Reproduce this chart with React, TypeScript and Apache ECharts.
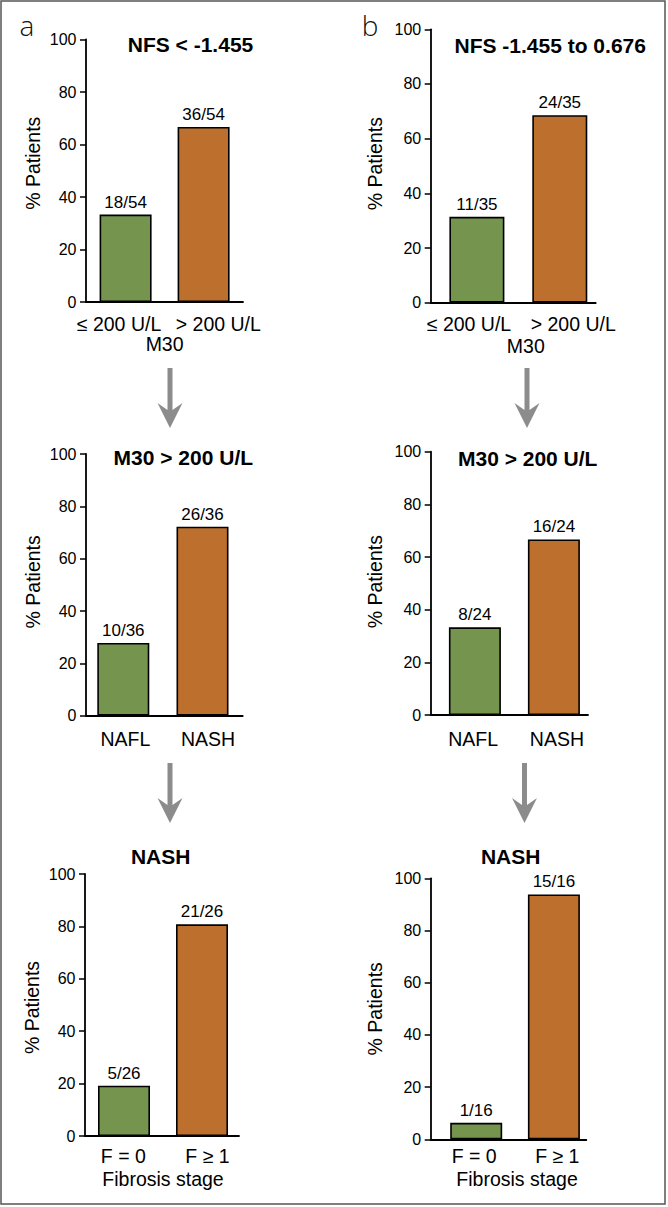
import React, { useEffect, useRef } from "react";
import * as echarts from "echarts";

// ---------- data ----------
const panelTitles = [
  "NFS < -1.455",
  "NFS -1.455 to 0.676",
  "M30 > 200 U/L",
  "M30 > 200 U/L",
  "NASH",
  "NASH",
];
const catsM30 = ["≤ 200 U/L", "> 200 U/L"];
const catsHisto = ["NAFL", "NASH"];
const catsFibrosis = ["F = 0", "F ≥ 1"];
const panelCategories = [catsM30, catsM30, catsHisto, catsHisto, catsFibrosis, catsFibrosis];
const xAxisNames = ["M30", "M30", "", "", "Fibrosis stage", "Fibrosis stage"];
const yAxisName = "% Patients";
const yMin = 0;
const yMax = 100;
const yInterval = 20;
const percentA1 = [33.3, 66.7];
const percentB1 = [31.4, 68.6];
const percentA2 = [27.8, 72.2];
const percentB2 = [33.3, 66.7];
const percentA3 = [19.2, 80.8];
const percentB3 = [6.3, 93.8];
const panelValues = [percentA1, percentB1, percentA2, percentB2, percentA3, percentB3];
const countsA1 = ["18/54", "36/54"];
const countsB1 = ["11/35", "24/35"];
const countsA2 = ["10/36", "26/36"];
const countsB2 = ["8/24", "16/24"];
const countsA3 = ["5/26", "21/26"];
const countsB3 = ["1/16", "15/16"];
const panelCounts = [countsA1, countsB1, countsA2, countsB2, countsA3, countsB3];
const panelLetters = ["a", "b"];

// ---------- styling / layout ----------
const FONT = "'Liberation Sans', Arial, Helvetica, sans-serif";
const barColors = ["#75954f", "#bd6f2d"];
const arrowColor = "#8c8c8c";

type Layout = {
  axisX: number; top: number; zero: number; end: number;
  c1: number; c2: number; bw: number;
  labelShift: [number, number]; labelMargin: number;
  nameGap: number; nameShift: number;
  yNameGap: number; yNameShift: number;
  titleX: number; titleY: number;
};

const layouts: Layout[] = [
  { axisX: 86, top: 39.5, zero: 302, end: 243, c1: 125.6, c2: 203.6, bw: 52,
    labelShift: [-6.6, 14.7], labelMargin: 11.5, nameGap: 31.5, nameShift: 0,
    yNameGap: 43, yNameShift: -7.5, titleX: 190.5, titleY: 44.3 },
  { axisX: 430.7, top: 29.3, zero: 302.7, end: 595.7, c1: 476.9, c2: 559.8, bw: 55,
    labelShift: [-7.9, 13.4], labelMargin: 10.8, nameGap: 33.3, nameShift: 7.4,
    yNameGap: 46, yNameShift: -2.3, titleX: 550.2, titleY: 45 },
  { axisX: 86, top: 454, zero: 715.7, end: 242.7, c1: 123.3, c2: 202.5, bw: 52,
    labelShift: [2, 5.5], labelMargin: 13.3, nameGap: 30, nameShift: 0,
    yNameGap: 43, yNameShift: -3, titleX: 183.3, titleY: 457.7 },
  { axisX: 430.7, top: 451.7, zero: 715, end: 588, c1: 474.9, c2: 553.9, bw: 52,
    labelShift: [-1.7, 3], labelMargin: 14, nameGap: 30, nameShift: 0,
    yNameGap: 45.5, yNameShift: -1.7, titleX: 527.7, titleY: 458.7 },
  { axisX: 85, top: 874, zero: 1136, end: 239, c1: 124, c2: 202, bw: 52,
    labelShift: [-0.7, 5.5], labelMargin: 10, nameGap: 33, nameShift: 0,
    yNameGap: 43, yNameShift: 2.5, titleX: 160.7, titleY: 856.8 },
  { axisX: 430.7, top: 878.3, zero: 1139.3, end: 586.3, c1: 476.2, c2: 553.9, bw: 52,
    labelShift: [-2, 3.4], labelMargin: 6.7, nameGap: 29.7, nameShift: 2,
    yNameGap: 46, yNameShift: 0, titleX: 510.7, titleY: 856.8 },
];

const arrows = [
  { cx: 170, top: 368, tip: 428 },
  { cx: 527, top: 368, tip: 428 },
  { cx: 170, top: 763, tip: 823 },
  { cx: 524.5, top: 763, tip: 823 },
];

const letterPos = [
  { x: 27, y: 25 },
  { x: 370, y: 25 },
];

function shiftPadding(d: number): number[] {
  return d < 0 ? [0, -2 * d, 0, 0] : [0, 0, 0, 2 * d];
}

function buildOption() {
  const grid: any[] = [];
  const xAxis: any[] = [];
  const yAxis: any[] = [];
  const series: any[] = [];
  const graphic: any[] = [];

  layouts.forEach((L, i) => {
    const band = L.c2 - L.c1;
    const h = L.zero - L.top;
    // frame grid (axis lines, y ticks)
    grid.push({ left: L.axisX, top: L.top, width: L.end - L.axisX, height: h, outerBoundsMode: "none" });
    // bar grid
    grid.push({ left: L.c1 - band / 2, top: L.top, width: band * 2, height: h, outerBoundsMode: "none" });
    const gFrame = 2 * i;
    const gBar = 2 * i + 1;

    xAxis.push({
      type: "category",
      gridIndex: gFrame,
      data: panelCategories[i],
      axisLine: { show: true, lineStyle: { color: "#000", width: 1.8 } },
      axisTick: { show: false },
      axisLabel: { show: false },
      splitLine: { show: false },
    });
    yAxis.push({
      type: "value",
      gridIndex: gFrame,
      min: yMin,
      max: yMax,
      interval: yInterval,
      axisLine: { show: true, lineStyle: { color: "#000", width: 1.8 } },
      axisTick: { show: true, length: 6, lineStyle: { color: "#000", width: 1.5 } },
      axisLabel: { show: true, margin: 9.5, fontSize: 16, fontFamily: FONT, color: "#000" },
      splitLine: { show: false },
      name: yAxisName,
      nameLocation: "middle",
      nameRotate: 90,
      nameGap: L.yNameGap,
      nameTextStyle: {
        fontSize: 19.5,
        fontFamily: FONT,
        color: "#000",
        padding: L.yNameShift < 0 ? [0, 0, 0, -2 * L.yNameShift] : [0, 2 * L.yNameShift, 0, 0],
      },
    });

    xAxis.push({
      type: "category",
      gridIndex: gBar,
      data: panelCategories[i],
      axisLine: { show: false },
      axisTick: { show: false },
      splitLine: { show: false },
      axisLabel: {
        show: true,
        interval: 0,
        margin: L.labelMargin,
        fontSize: 19.5,
        fontFamily: FONT,
        color: "#000",
        formatter: (v: string, idx: number) => `{s${idx}|${v}}`,
        rich: {
          s0: { fontSize: 19.5, fontFamily: FONT, color: "#000", padding: shiftPadding(L.labelShift[0]) },
          s1: { fontSize: 19.5, fontFamily: FONT, color: "#000", padding: shiftPadding(L.labelShift[1]) },
        },
      },
      name: xAxisNames[i],
      nameLocation: "middle",
      nameGap: L.nameGap,
      nameTextStyle: {
        fontSize: 19.5,
        fontFamily: FONT,
        color: "#000",
        padding: shiftPadding(L.nameShift),
      },
    });
    yAxis.push({
      type: "value",
      gridIndex: gBar,
      min: yMin,
      max: yMax,
      interval: yInterval,
      show: false,
    });

    series.push({
      type: "bar",
      xAxisIndex: gBar,
      yAxisIndex: gBar,
      barWidth: L.bw,
      data: panelValues[i].map((v, k) => ({
        value: v,
        itemStyle: { color: barColors[k], borderColor: "#000", borderWidth: 1.6 },
      })),
      label: {
        show: true,
        position: "top",
        distance: 4,
        fontSize: 17,
        fontFamily: FONT,
        color: "#000",
        formatter: (p: any) => panelCounts[i][p.dataIndex],
      },
    });

    graphic.push({
      type: "text",
      x: L.titleX,
      y: L.titleY,
      style: {
        text: panelTitles[i],
        fontSize: 21,
        fontWeight: "bold",
        fontFamily: FONT,
        fill: "#000",
        align: "center",
        verticalAlign: "middle",
        textAlign: "center",
        textVerticalAlign: "middle",
      },
    });
  });

  arrows.forEach((a) => {
    graphic.push({
      type: "polygon",
      shape: {
        points: [
          [a.cx - 2.5, a.top],
          [a.cx + 2.5, a.top],
          [a.cx + 2.5, a.tip - 18],
          [a.cx + 12.5, a.tip - 25],
          [a.cx, a.tip],
          [a.cx - 12.5, a.tip - 25],
          [a.cx - 2.5, a.tip - 18],
        ],
      },
      style: { fill: arrowColor },
    });
  });

  panelLetters.forEach((t, i) => {
    graphic.push({
      type: "text",
      x: letterPos[i].x,
      y: letterPos[i].y,
      style: {
        text: t,
        fontSize: 28,
        fontWeight: 300,
        fontFamily: "'Open Sans', 'Liberation Sans', sans-serif",
        fill: "#111",
        align: "center",
        verticalAlign: "middle",
        textAlign: "center",
        textVerticalAlign: "middle",
      },
    });
  });

  graphic.push({
    type: "rect",
    shape: { x: 1, y: 1, width: 664, height: 1203 },
    style: { fill: "none", stroke: "#555", lineWidth: 1.5 },
    z: 100,
  });

  return {
    animation: false,
    backgroundColor: "#fff",
    grid,
    xAxis,
    yAxis,
    series,
    graphic,
  };
}

export default function App() {
  const ref = useRef<HTMLDivElement>(null);
  useEffect(() => {
    if (!ref.current) return;
    const chart = echarts.init(ref.current, null, { renderer: "svg" });
    chart.setOption(buildOption() as any);
    return () => chart.dispose();
  }, []);
  return (
    <div
      ref={ref}
      style={{ position: "absolute", left: 0, top: 0, width: 668, height: 1207, background: "#fff" }}
    />
  );
}
